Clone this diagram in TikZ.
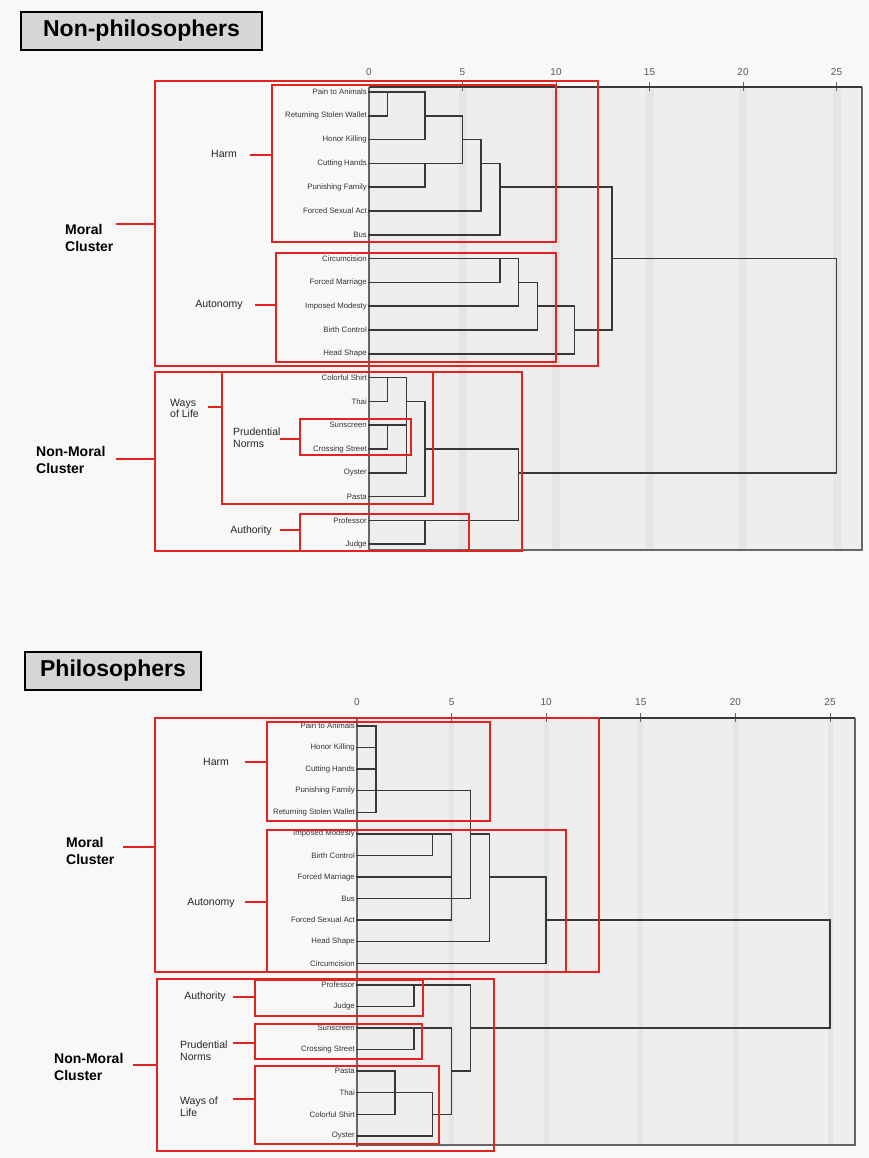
\documentclass[tikz,border=0pt]{standalone}
\usepackage{fontspec}
\setmainfont{Liberation Sans}
\definecolor{myred}{HTML}{E3231F}
\definecolor{bggrey}{HTML}{F8F8F8}
\definecolor{plotgrey}{HTML}{EEEEEE}
\definecolor{bandgrey}{HTML}{E5E5E5}
\definecolor{titlegrey}{HTML}{D6D6D6}
\begin{document}
\begin{tikzpicture}[x=1pt,y=-1pt,
  dend/.style={draw=black!78, line width=1.5pt, line cap=rect},
  redbig/.style={draw=myred, line width=2.2pt},
  redsmall/.style={draw=myred, line width=1.4pt},
  redtick/.style={draw=myred, line width=1.7pt},
  rowlab/.style={anchor=east, inner sep=0pt, xshift=-2pt, font=\fontsize{7.8}{8}\selectfont, text=black!80},
  axlab/.style={font=\fontsize{10}{11}\selectfont, text=black!65, inner sep=0pt},
  grplab/.style={font=\fontsize{10.5}{11.5}\selectfont, align=left, inner sep=0pt, text=black!85},
  clulab/.style={font=\bfseries\fontsize{14}{17}\selectfont, align=left, inner sep=0pt, anchor=west},
  titlebox/.style={draw=black, line width=2.2pt, fill=titlegrey, inner sep=0pt, font=\bfseries\fontsize{23}{24}\selectfont},
  frame/.style={draw=black!60, line width=1.1pt},
  topline/.style={draw=black!78, line width=1.5pt},
  axtick/.style={draw=black!60, line width=0.9pt}
]
\useasboundingbox (0,0) rectangle (869,1158);
\fill[bggrey] (0,0) rectangle (869,1158);

% ================= TOP: Non-philosophers =================
\node[titlebox, minimum width=241pt, minimum height=38pt] (title1) at (141.5,31) {Non-philosophers};

\fill[plotgrey] (369,87) rectangle (862,550);
\foreach \v in {5,10,15,20,25}{
  \fill[bandgrey] ({369+18.7*\v-4},89) rectangle ({369+18.7*\v+4},549);
  \draw[axtick] ({369+18.7*\v},82) -- ({369+18.7*\v},91);
}
\foreach \v in {0,5,10,15,20,25}{
  \node[axlab] (ta\v) at ({369+18.7*\v},72) {\v};
}
\draw[frame] (862,87) -- (862,550) -- (369,550);
\draw[topline] (369,87) -- (862,87);
\draw[frame] (369,87) -- (369,552);

\begin{scope}[shift={(369,92)}, x=18.7pt, y=-23.8pt]
  \node[rowlab] (t0) at (0,0) {Pain to Animals};
  \node[rowlab] (t1) at (0,1) {Returning Stolen Wallet};
  \node[rowlab] (t2) at (0,2) {Honor Killing};
  \node[rowlab] (t3) at (0,3) {Cutting Hands};
  \node[rowlab] (t4) at (0,4) {Punishing Family};
  \node[rowlab] (t5) at (0,5) {Forced Sexual Act};
  \node[rowlab] (t6) at (0,6) {Bus};
  \node[rowlab] (t7) at (0,7) {Circumcision};
  \node[rowlab] (t8) at (0,8) {Forced Marriage};
  \node[rowlab] (t9) at (0,9) {Imposed Modesty};
  \node[rowlab] (t10) at (0,10) {Birth Control};
  \node[rowlab] (t11) at (0,11) {Head Shape};
  \node[rowlab] (t12) at (0,12) {Colorful Shirt};
  \node[rowlab] (t13) at (0,13) {Thai};
  \node[rowlab] (t14) at (0,14) {Sunscreen};
  \node[rowlab] (t15) at (0,15) {Crossing Street};
  \node[rowlab] (t16) at (0,16) {Oyster};
  \node[rowlab] (t17) at (0,17) {Pasta};
  \node[rowlab] (t18) at (0,18) {Professor};
  \node[rowlab] (t19) at (0,19) {Judge};
  % Harm
  \draw[dend] (0,0)--(3,0) (0,1)--(1,1) (1,0)--(1,1);
  \draw[dend] (3,0)--(3,2) (0,2)--(3,2) (3,1)--(5,1);
  \draw[dend] (0,3)--(5,3) (0,4)--(3,4) (3,3)--(3,4);
  \draw[dend] (5,1)--(5,3) (5,2)--(6,2);
  \draw[dend] (6,2)--(6,5) (0,5)--(6,5) (6,3)--(7,3);
  \draw[dend] (7,3)--(7,6) (0,6)--(7,6) (7,4)--(13,4);
  % Autonomy
  \draw[dend] (0,7)--(8,7) (0,8)--(7,8) (7,7)--(7,8);
  \draw[dend] (8,7)--(8,9) (0,9)--(8,9) (8,8)--(9,8);
  \draw[dend] (9,8)--(9,10) (0,10)--(9,10) (9,9)--(11,9);
  \draw[dend] (11,9)--(11,11) (0,11)--(11,11) (11,10)--(13,10);
  \draw[dend] (13,4)--(13,10) (13,7)--(25,7);
  % Non-moral
  \draw[dend] (0,12)--(2,12) (0,13)--(1,13) (1,12)--(1,13);
  \draw[dend] (0,14)--(2,14) (0,15)--(1,15) (1,14)--(1,15);
  \draw[dend] (2,12)--(2,16) (0,16)--(2,16) (2,13)--(3,13);
  \draw[dend] (3,13)--(3,17) (0,17)--(3,17) (3,15)--(8,15);
  \draw[dend] (0,18)--(8,18) (0,19)--(3,19) (3,18)--(3,19);
  \draw[dend] (8,15)--(8,18) (8,16)--(25,16);
  \draw[dend] (25,7)--(25,16);
\end{scope}

% red boxes top
\draw[redbig] (155,81) rectangle (598,366);
\draw[redsmall] (272,85) rectangle (556,242);
\draw[redsmall] (276,253) rectangle (556,362);
\draw[redbig] (155,372) rectangle (522,551);
\draw[redsmall] (222,372) rectangle (433,504);
\draw[redsmall] (300,419) rectangle (411,455);
\draw[redsmall] (300,514) rectangle (469,551);
\draw[redtick] (116,224) -- (155,224);
\draw[redtick] (250,155) -- (272,155);
\draw[redtick] (255,305) -- (276,305);
\draw[redtick] (116,459) -- (155,459);
\draw[redtick] (208,407) -- (222,407);
\draw[redtick] (280,439) -- (300,439);
\draw[redtick] (280,530) -- (300,530);

\node[clulab] (tmoral) at (65,238) {Moral\\Cluster};
\node[grplab] (tharm) at (224,154) {Harm};
\node[grplab] (taut) at (219,305) {Autonomy};
\node[clulab] (tnon) at (36,460) {Non-Moral\\Cluster};
\node[grplab, anchor=west, font=\fontsize{10.5}{10.8}\selectfont] (tways) at (170,408.5) {Ways\\of Life};
\node[grplab, anchor=west, font=\fontsize{10.5}{11.7}\selectfont] (tprud) at (233,438) {Prudential\\Norms};
\node[grplab] (tauth) at (251,530.5) {Authority};

% ================= BOTTOM: Philosophers =================
\node[titlebox, minimum width=176pt, minimum height=38pt] (title2) at (113,671) {Philosophers};

\fill[plotgrey] (357,718) rectangle (855,1145);
\foreach \v in {5,10,15,20,25}{
  \fill[bandgrey] ({357+18.92*\v-2.5},720) rectangle ({357+18.92*\v+2.5},1144);
  \draw[axtick] ({357+18.92*\v},713) -- ({357+18.92*\v},722);
}
\foreach \v in {0,5,10,15,20,25}{
  \node[axlab] (ba\v) at ({357+18.92*\v},702) {\v};
}
\draw[frame] (855,718) -- (855,1145) -- (357,1145);
\draw[topline] (357,718) -- (855,718);
\draw[frame] (357,718) -- (357,1147);

\begin{scope}[shift={(357,726)}, x=18.92pt, y=-21.57pt]
  \node[rowlab] (b0) at (0,0) {Pain to Animals};
  \node[rowlab] (b1) at (0,1) {Honor Killing};
  \node[rowlab] (b2) at (0,2) {Cutting Hands};
  \node[rowlab] (b3) at (0,3) {Punishing Family};
  \node[rowlab] (b4) at (0,4) {Returning Stolen Wallet};
  \node[rowlab] (b5) at (0,5) {Imposed Modesty};
  \node[rowlab] (b6) at (0,6) {Birth Control};
  \node[rowlab] (b7) at (0,7) {Forced Marriage};
  \node[rowlab] (b8) at (0,8) {Bus};
  \node[rowlab] (b9) at (0,9) {Forced Sexual Act};
  \node[rowlab] (b10) at (0,10) {Head Shape};
  \node[rowlab] (b11) at (0,11) {Circumcision};
  \node[rowlab] (b12) at (0,12) {Professor};
  \node[rowlab] (b13) at (0,13) {Judge};
  \node[rowlab] (b14) at (0,14) {Sunscreen};
  \node[rowlab] (b15) at (0,15) {Crossing Street};
  \node[rowlab] (b16) at (0,16) {Pasta};
  \node[rowlab] (b17) at (0,17) {Thai};
  \node[rowlab] (b18) at (0,18) {Colorful Shirt};
  \node[rowlab] (b19) at (0,19) {Oyster};
  % Harm
  \draw[dend] (0,0)--(1,0) (0,1)--(1,1) (0,2)--(1,2) (0,3)--(6,3) (0,4)--(1,4) (1,0)--(1,4);
  % Autonomy
  \draw[dend] (0,5)--(5,5) (0,6)--(4,6) (4,5)--(4,6);
  \draw[dend] (5,5)--(5,9) (0,7)--(5,7) (0,8)--(6,8) (0,9)--(5,9);
  \draw[dend] (6,3)--(6,8) (6,5)--(7,5);
  \draw[dend] (7,5)--(7,10) (0,10)--(7,10) (7,7)--(10,7);
  \draw[dend] (10,7)--(10,11) (0,11)--(10,11) (10,9)--(25,9);
  % Non-moral
  \draw[dend] (0,12)--(6,12) (0,13)--(3,13) (3,12)--(3,13);
  \draw[dend] (0,14)--(5,14) (0,15)--(3,15) (3,14)--(3,15);
  \draw[dend] (0,16)--(2,16) (0,17)--(4,17) (0,18)--(2,18) (2,16)--(2,18);
  \draw[dend] (4,17)--(4,19) (0,19)--(4,19) (4,18)--(5,18);
  \draw[dend] (5,14)--(5,18) (5,16)--(6,16);
  \draw[dend] (6,12)--(6,16) (6,14)--(25,14);
  \draw[dend] (25,9)--(25,14);
\end{scope}

% red boxes bottom
\draw[redbig] (155,718) rectangle (599,972);
\draw[redsmall] (267,722) rectangle (490,821);
\draw[redsmall] (267,830) rectangle (566,972);
\draw[redbig] (157,979) rectangle (494,1151);
\draw[redsmall] (255,980) rectangle (423,1016);
\draw[redsmall] (255,1024) rectangle (422,1059);
\draw[redsmall] (255,1066) rectangle (439,1144);
\draw[redtick] (123,847) -- (155,847);
\draw[redtick] (245,762) -- (267,762);
\draw[redtick] (245,902) -- (267,902);
\draw[redtick] (133,1065) -- (157,1065);
\draw[redtick] (233,997) -- (255,997);
\draw[redtick] (233,1043) -- (255,1043);
\draw[redtick] (233,1099) -- (255,1099);

\node[clulab] (bmoral) at (66,851) {Moral\\Cluster};
\node[grplab] (bharm) at (216,762) {Harm};
\node[grplab] (baut) at (211,903) {Autonomy};
\node[clulab] (bnon) at (54,1067) {Non-Moral\\Cluster};
\node[grplab] (bauth) at (205,997) {Authority};
\node[grplab, anchor=west, font=\fontsize{10.5}{12.3}\selectfont] (bprud) at (180,1050.5) {Prudential\\Norms};
\node[grplab, anchor=west, font=\fontsize{10.5}{12.5}\selectfont] (bways) at (180,1106.5) {Ways of\\Life};
\end{tikzpicture}
\end{document}
